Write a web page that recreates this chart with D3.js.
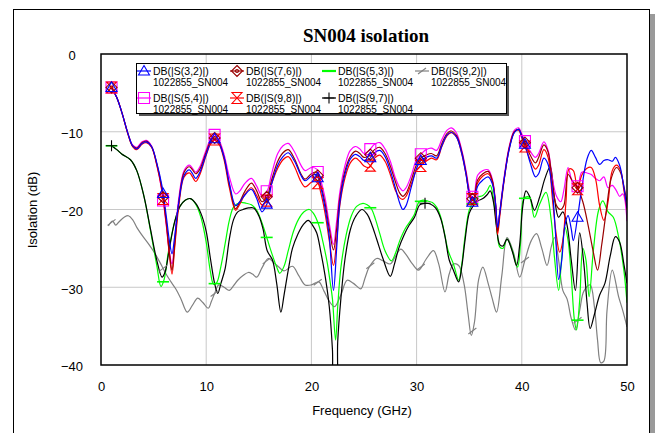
<!DOCTYPE html>
<html>
<head>
<meta charset="utf-8">
<script src="https://cdn.jsdelivr.net/npm/d3@7"></script>
<style>
  body { margin: 0; background: #ffffff; }
  svg { display: block; }
  text { font-family: "Liberation Sans", Arial, sans-serif; }
</style>
</head>
<body>
<svg id="chart" width="659" height="433"></svg>
<script>
// data: [frequency GHz, dB]
var s32 = [[1,-4.3],[1.5,-5.6],[2,-7.6],[2.6,-10.4],[3,-11.8],[3.4,-12.2],[3.9,-11.5],[4.3,-11.3],[4.8,-11.9],[5.3,-14.0],[5.8,-17.0],[6.2,-20.8],[6.5,-24],[6.75,-25.7],[7.0,-23.5],[7.4,-19],[7.9,-15.6],[8.4,-14.9],[8.7,-15.4],[9.0,-16.0],[9.4,-15.2],[10.0,-12.9],[10.5,-11.2],[10.8,-10.9],[11.2,-11.4],[11.7,-13.3],[12.2,-16.6],[12.8,-19.5],[13.2,-19.0],[13.7,-18.1],[14.3,-17.4],[14.8,-18.6],[15.3,-20.3],[15.8,-19.2],[16.2,-16.8],[16.8,-14.3],[17.3,-13.2],[17.8,-12.7],[18.4,-13.8],[19.0,-15.6],[19.4,-16.3],[20.0,-15.7],[20.5,-15.5],[20.9,-17.2],[21.3,-19.8],[21.7,-23.5],[22.1,-30.4],[22.4,-25],[22.7,-19.2],[23.2,-15.4],[23.7,-13.5],[24.2,-12.9],[24.6,-13.2],[25.0,-13.7],[25.5,-13.5],[26.0,-12.7],[26.5,-12.4],[27.0,-13.2],[27.5,-15.0],[28.0,-17.3],[28.4,-19.2],[28.7,-20.0],[29.0,-19.5],[29.5,-17.1],[30.0,-14.7],[30.4,-13.7],[30.9,-13.3],[31.4,-13.1],[31.9,-13.4],[32.4,-11.8],[32.9,-10.4],[33.3,-10.1],[33.8,-10.7],[34.3,-12.8],[34.7,-15.5],[35.1,-18.6],[35.4,-19.3],[35.8,-17.0],[36.3,-16.2],[36.8,-15.8],[37.2,-16.7],[37.5,-19.2],[37.7,-22.3],[37.9,-20.5],[38.3,-16.3],[38.8,-12.3],[39.3,-10.1],[39.7,-9.7],[40.0,-10.6],[40.3,-11.6],[40.8,-14.0],[41.3,-15.8],[41.6,-15.4],[42.1,-13.4],[42.5,-14.2],[42.9,-17.5],[43.2,-23],[43.5,-29],[43.8,-26.5],[44.1,-22],[44.4,-20.8],[44.7,-22.5],[44.9,-24],[45.3,-21],[45.7,-17.2],[46.2,-13.5],[46.6,-12.4],[47.0,-13.3],[47.4,-14.2],[47.8,-13.7],[48.2,-13.6],[48.6,-13.8],[48.9,-13.3],[49.3,-14.3],[49.6,-16.3],[50,-19.8]];

var s76 = [[1,-4.3],[1.5,-5.6],[2,-7.6],[2.6,-10.4],[3,-11.8],[3.4,-12.1],[3.9,-11.4],[4.3,-11.2],[4.8,-11.9],[5.3,-14.1],[5.8,-17.4],[6.2,-21.5],[6.5,-25.5],[6.75,-27.8],[7.0,-24.5],[7.4,-19],[7.9,-15.2],[8.4,-14.5],[8.7,-14.9],[9.0,-15.4],[9.4,-14.8],[10.0,-12.6],[10.5,-11.0],[10.8,-10.8],[11.2,-11.3],[11.7,-13.3],[12.2,-16.8],[12.8,-19.9],[13.2,-19.0],[13.7,-17.6],[14.3,-16.6],[14.8,-17.6],[15.3,-19.0],[15.8,-18.3],[16.2,-16.3],[16.8,-13.8],[17.3,-12.7],[17.8,-12.3],[18.4,-13.5],[19.0,-15.4],[19.4,-16.1],[20.0,-15.4],[20.5,-15.2],[20.9,-16.9],[21.3,-19.2],[21.7,-22.5],[22.1,-25.2],[22.4,-22.5],[22.7,-18.5],[23.2,-15.0],[23.7,-13.2],[24.2,-12.5],[24.6,-12.8],[25.0,-13.3],[25.5,-13.1],[26.0,-12.3],[26.5,-12.0],[27.0,-12.8],[27.5,-14.4],[28.0,-16.5],[28.4,-17.9],[28.7,-18.3],[29.0,-17.9],[29.5,-16.2],[30.0,-14.2],[30.4,-13.4],[30.9,-13.0],[31.4,-12.8],[31.9,-13.1],[32.4,-11.5],[32.9,-10.2],[33.3,-9.9],[33.8,-10.5],[34.3,-12.6],[34.7,-15.3],[35.1,-18.3],[35.4,-18.8],[35.8,-16.2],[36.3,-15.4],[36.8,-15.1],[37.2,-16.3],[37.5,-19.2],[37.7,-22.8],[37.9,-20.5],[38.3,-16.3],[38.8,-12.1],[39.3,-10.0],[39.7,-9.7],[40.0,-10.5],[40.3,-11.4],[40.8,-13.0],[41.3,-14.0],[41.6,-13.3],[42.1,-11.7],[42.5,-12.6],[42.9,-16.5],[43.3,-19.5],[43.7,-20.0],[44.0,-19.5],[44.4,-15.5],[44.8,-16.3],[45.3,-17.2],[45.8,-19.0],[46.3,-22],[46.8,-25.5],[47.2,-27.8],[47.6,-24.5],[48.0,-20.5],[48.5,-16.0],[49.0,-14.6],[49.4,-15.3],[49.7,-17.0],[50,-19]];

var s98 = [[1,-4.3],[1.5,-5.6],[2,-7.6],[2.6,-10.5],[3,-11.9],[3.4,-12.3],[3.9,-11.6],[4.3,-11.4],[4.8,-12.0],[5.3,-14.3],[5.8,-17.6],[6.2,-21.8],[6.5,-25.8],[6.75,-28.3],[7.0,-25],[7.4,-19.5],[7.9,-15.8],[8.4,-15.3],[8.7,-15.8],[9.0,-16.4],[9.4,-15.5],[10.0,-13.0],[10.5,-11.3],[10.8,-11.0],[11.2,-11.5],[11.7,-13.6],[12.2,-17.2],[12.8,-20.1],[13.2,-19.3],[13.7,-18.0],[14.3,-17.2],[14.8,-18.2],[15.3,-19.4],[15.8,-18.8],[16.2,-16.8],[16.8,-14.7],[17.3,-13.6],[17.8,-13.2],[18.4,-14.5],[19.0,-16.4],[19.4,-17.1],[20.0,-16.5],[20.5,-16.2],[20.9,-17.9],[21.3,-20.5],[21.7,-24.0],[22.1,-27.2],[22.4,-24],[22.7,-19.5],[23.2,-15.9],[23.7,-14.0],[24.2,-13.4],[24.6,-13.8],[25.0,-14.4],[25.5,-14.6],[26.0,-13.4],[26.5,-13.0],[27.0,-13.8],[27.5,-15.5],[28.0,-17.6],[28.4,-18.5],[28.7,-18.7],[29.0,-18.3],[29.5,-16.7],[30.0,-14.9],[30.4,-14.4],[30.9,-13.8],[31.4,-13.4],[31.9,-13.6],[32.4,-11.9],[32.9,-10.5],[33.3,-10.1],[33.8,-10.7],[34.3,-12.9],[34.7,-15.5],[35.1,-18.4],[35.4,-18.8],[35.8,-16.6],[36.3,-15.7],[36.8,-15.4],[37.2,-16.4],[37.5,-19.5],[37.7,-23.2],[37.9,-21],[38.3,-16.5],[38.8,-12.2],[39.3,-10.0],[39.7,-9.8],[40.0,-10.8],[40.3,-11.9],[40.8,-13.6],[41.3,-14.8],[41.6,-14.3],[42.1,-12.3],[42.5,-13.3],[42.9,-18.5],[43.3,-23.5],[43.6,-25.5],[43.9,-24],[44.2,-19],[44.5,-14.8],[44.9,-15.0],[45.3,-17.4],[45.7,-15.6],[46.2,-14.7],[46.6,-14.6],[47.0,-16.0],[47.4,-19.5],[47.8,-21.4],[48.2,-19.0],[48.6,-15.0],[49.0,-14.3],[49.4,-15.0],[49.7,-17.5],[50,-20]];

var s54 = [[1,-4.3],[1.5,-5.6],[2,-7.6],[2.6,-10.4],[3,-11.7],[3.4,-12.0],[3.9,-11.3],[4.3,-11.1],[4.8,-11.8],[5.3,-14.2],[5.8,-17.8],[6.2,-22.0],[6.5,-25.5],[6.75,-27.0],[7.0,-24],[7.4,-18.5],[7.9,-15.0],[8.4,-14.3],[8.7,-14.7],[9.0,-15.2],[9.4,-14.5],[10.0,-12.3],[10.5,-10.7],[10.8,-10.4],[11.2,-11.0],[11.7,-12.9],[12.2,-15.8],[12.8,-18.0],[13.2,-17.6],[13.7,-16.6],[14.3,-16.0],[14.8,-17.0],[15.3,-18.2],[15.8,-17.6],[16.2,-15.5],[16.8,-12.8],[17.3,-11.8],[17.8,-11.5],[18.4,-12.6],[19.0,-14.3],[19.4,-15.0],[20.0,-14.6],[20.5,-14.8],[20.9,-16.3],[21.3,-18.5],[21.7,-21.8],[22.1,-24.5],[22.4,-21.5],[22.7,-17.8],[23.2,-14.3],[23.7,-12.4],[24.2,-11.9],[24.6,-12.2],[25.0,-12.8],[25.5,-12.4],[26.0,-11.6],[26.5,-11.4],[27.0,-12.2],[27.5,-13.8],[28.0,-16.0],[28.4,-17.2],[28.7,-17.6],[29.0,-17.2],[29.5,-15.6],[30.0,-13.5],[30.4,-12.9],[30.9,-12.3],[31.4,-12.1],[31.9,-12.4],[32.4,-11.0],[32.9,-9.8],[33.3,-9.5],[33.8,-10.2],[34.3,-12.4],[34.7,-15.0],[35.1,-17.9],[35.4,-18.6],[35.8,-15.6],[36.3,-15.0],[36.8,-14.9],[37.2,-16.1],[37.5,-19.0],[37.7,-22.5],[37.9,-20.3],[38.3,-16.0],[38.8,-11.9],[39.3,-9.8],[39.7,-9.5],[40.0,-10.3],[40.3,-11.2],[40.8,-12.5],[41.3,-13.3],[41.6,-12.8],[42.1,-11.3],[42.5,-12.4],[42.9,-16.0],[43.3,-18.3],[43.7,-19.0],[44.0,-17.5],[44.4,-14.6],[44.8,-16.4],[45.3,-17.0],[45.7,-15.2],[46.2,-15.3],[46.6,-15.5],[47.0,-16.0],[47.4,-16.3],[47.8,-15.8],[48.2,-17.2],[48.6,-16.9],[49.0,-17.6],[49.3,-18.3],[49.6,-18.0],[50,-21.5]];

var s53 = [[1,-11.8],[1.5,-12.3],[2,-12.9],[2.8,-13.6],[3.4,-15.0],[4.1,-18.4],[4.7,-22.7],[5.3,-27.2],[5.7,-29.9],[6.0,-29.0],[6.4,-25.5],[7.0,-21.6],[7.5,-19.6],[8.0,-18.8],[8.5,-18.6],[9.0,-19.3],[9.5,-21.0],[10.0,-24.2],[10.4,-28.0],[10.7,-29.6],[11.0,-29.4],[11.4,-27.3],[11.8,-24.4],[12.2,-21.4],[12.6,-19.7],[13.2,-19.1],[13.8,-19.2],[14.3,-19.4],[14.8,-20.1],[15.3,-21.7],[15.8,-23.8],[16.3,-25.9],[16.7,-27.4],[17.0,-28.2],[17.4,-27.3],[17.8,-25.3],[18.3,-22.8],[18.8,-21.2],[19.3,-20.3],[19.8,-20.0],[20.2,-20.5],[20.7,-22.0],[21.1,-24.2],[21.5,-26.8],[21.8,-29.5],[22.0,-31.5],[22.3,-36.8],[22.5,-32.5],[22.8,-27.5],[23.3,-23.3],[23.8,-20.8],[24.3,-19.6],[24.9,-19.2],[25.3,-19.4],[25.7,-19.9],[26.1,-21.3],[26.5,-23.1],[27.0,-25.3],[27.6,-26.6],[28.0,-25.6],[28.4,-24.0],[28.9,-22.5],[29.4,-21.5],[29.8,-20.6],[30.2,-19.1],[30.6,-18.8],[31.0,-18.9],[31.5,-19.1],[31.9,-19.7],[32.3,-21.0],[32.6,-22.7],[33.0,-25.3],[33.5,-27.0],[34.0,-29.1],[34.3,-27.0],[34.6,-23.5],[35.0,-20.1],[35.4,-19.0],[35.8,-18.4],[36.3,-18.2],[36.7,-17.6],[37.0,-16.9],[37.3,-18.5],[37.6,-22.0],[37.9,-24.8],[38.2,-25.0],[38.6,-23.8],[39.1,-25.3],[39.6,-27.4],[39.9,-24.0],[40.2,-18.6],[40.7,-18.4],[41.2,-21.0],[41.7,-19.3],[42.3,-17.8],[42.8,-21.4],[43.1,-26.1],[43.5,-30.4],[43.8,-26.1],[44.1,-22.3],[44.4,-24.0],[44.7,-28.5],[45.0,-34.2],[45.2,-35.5],[45.5,-31.7],[45.8,-25.0],[46.1,-26.5],[46.4,-31.2],[46.8,-25.3],[47.3,-20.1],[47.7,-18.9],[48.2,-20.3],[48.7,-21.0],[49.2,-23.5],[49.7,-27.8],[50,-32]];

var s92 = [[0.7,-22.1],[1.1,-21.5],[1.4,-22.0],[1.7,-21.6],[2.2,-21.0],[2.6,-20.8],[3.0,-21.3],[3.4,-22.3],[4.0,-23.5],[4.5,-24.4],[5.1,-25.6],[5.6,-26.8],[6.1,-28.1],[6.6,-29.2],[7.1,-30.2],[7.6,-31.5],[8.2,-33.2],[8.7,-32.3],[9.2,-31.4],[9.7,-32.0],[10.2,-32.7],[10.5,-31.8],[10.8,-30.8],[11.2,-29.7],[11.7,-30.0],[12.2,-30.4],[12.6,-29.8],[13.0,-29.1],[13.5,-28.5],[14.0,-28.1],[14.4,-28.3],[14.8,-28.7],[15.3,-27.5],[15.9,-26.3],[16.4,-26.8],[16.9,-27.4],[17.4,-27.9],[18.2,-27.3],[18.8,-28.5],[19.4,-29.7],[20.0,-29.7],[20.7,-29.3],[21.2,-30.5],[21.7,-31.8],[22.2,-32.5],[22.8,-31.0],[23.4,-29.1],[24.0,-29.5],[24.7,-30.2],[25.1,-28.8],[25.5,-27.4],[26.2,-26.3],[26.8,-26.6],[27.5,-27.0],[28.0,-26.0],[28.5,-25.1],[29.0,-25.8],[29.6,-27.0],[30.2,-27.8],[30.9,-26.4],[31.6,-25.3],[32.1,-27.0],[32.7,-30.6],[33.1,-28.3],[33.5,-27.0],[34.0,-27.2],[34.5,-29.5],[34.9,-33.5],[35.2,-36.2],[35.5,-34.5],[35.9,-29.0],[36.3,-27.4],[36.8,-29.5],[37.2,-31.5],[37.6,-33.2],[38.1,-28.5],[38.6,-23.6],[39.2,-25.5],[39.8,-28.7],[40.3,-26.5],[40.9,-24.0],[41.4,-23.1],[41.9,-25.0],[42.4,-27.2],[42.8,-24.8],[43.1,-23.6],[43.5,-26.5],[43.9,-30.4],[44.3,-31.5],[44.7,-34.0],[45.1,-35.5],[45.5,-33.0],[45.9,-30.5],[46.5,-29.7],[46.9,-32.5],[47.2,-36.8],[47.5,-39.7],[47.8,-39.5],[48.1,-33.0],[48.6,-27.8],[49.2,-31.2],[49.6,-33.0],[50,-35.1]];

var s97 = [[1,-11.8],[1.5,-12.3],[2,-12.9],[2.8,-13.6],[3.4,-15.0],[4.1,-18.4],[4.7,-22.5],[5.3,-26.5],[5.8,-28.7],[6.1,-28.0],[6.5,-25.0],[7.0,-21.6],[7.5,-19.6],[8.0,-18.8],[8.5,-18.6],[9.0,-19.2],[9.5,-20.5],[10.0,-22.8],[10.4,-26.3],[10.8,-29.5],[11.1,-30.8],[11.4,-29.5],[11.8,-27.6],[12.2,-23.8],[12.6,-21.3],[13.0,-20.3],[13.5,-20.0],[14.0,-19.8],[14.5,-19.8],[15.0,-20.8],[15.4,-22.5],[15.8,-25.3],[16.3,-26.5],[16.7,-29.5],[17.1,-33.2],[17.4,-31.0],[17.8,-27.8],[18.2,-25.0],[18.7,-23.2],[19.2,-22.0],[19.7,-21.4],[20.1,-22.0],[20.5,-23.0],[20.9,-25.5],[21.3,-28.5],[21.7,-32.5],[22.0,-38],[22.15,-43],[22.35,-43],[22.5,-37],[22.8,-31.5],[23.2,-26.3],[23.7,-22.6],[24.2,-20.9],[24.8,-20.0],[25.3,-20.6],[25.7,-21.8],[26.2,-23.8],[26.8,-26.3],[27.5,-28.6],[27.9,-27.0],[28.3,-25.0],[28.8,-23.3],[29.3,-22.0],[29.8,-21.0],[30.3,-19.4],[30.8,-19.2],[31.3,-19.3],[31.8,-19.8],[32.3,-21.2],[32.7,-23.5],[33.1,-26.5],[33.5,-27.8],[34.0,-29.3],[34.3,-27.3],[34.6,-24.0],[35.0,-20.5],[35.4,-19.5],[35.8,-18.9],[36.3,-18.6],[36.7,-18.1],[37.0,-17.6],[37.3,-19.0],[37.6,-22.3],[37.9,-24.5],[38.2,-24.7],[38.6,-23.8],[39.1,-25.4],[39.5,-27.2],[39.8,-24.5],[40.1,-19.5],[40.4,-17.6],[40.8,-18.5],[41.2,-20.1],[41.7,-18.4],[42.2,-16.0],[42.7,-14.5],[43.1,-18.5],[43.5,-21.0],[43.9,-20.3],[44.3,-22.0],[44.7,-26.5],[45.1,-30.4],[45.5,-23.0],[45.9,-27.0],[46.2,-32.0],[46.5,-35.3],[46.9,-33.5],[47.4,-31.0],[47.9,-29.5],[48.4,-26.0],[48.9,-23.5],[49.3,-24.2],[49.7,-27.0],[50,-29.5]];

// frequencies where the trace markers sit
var markerFreqs = [1, 5.9, 10.8, 15.75, 20.6, 25.6, 30.4, 35.3, 40.3, 45.3];
var blackMarkerFreqs = [1, 30.8];

var xTicks = [0, 10, 20, 30, 40, 50];
var yTicks = [0, -10, -20, -30, -40];

// drawing order: first drawn ends up underneath
var series = [
  { name: "DB(|S(9,2)|)", data: s92, color: "#808080", marker: "slash", marks: markerFreqs, col: 3, row: 0 },
  { name: "DB(|S(5,3)|)", data: s53, color: "#00ff00", marker: "dash", marks: markerFreqs, col: 2, row: 0 },
  { name: "DB(|S(9,7)|)", data: s97, color: "#000000", marker: "plus", marks: blackMarkerFreqs, col: 2, row: 1 },
  { name: "DB(|S(5,4)|)", data: s54, color: "#ff00ff", marker: "square", marks: markerFreqs, col: 0, row: 1 },
  { name: "DB(|S(9,8)|)", data: s98, color: "#ff0000", marker: "hourglass", marks: markerFreqs, col: 1, row: 1 },
  { name: "DB(|S(7,6)|)", data: s76, color: "#990000", marker: "diamond", marks: markerFreqs, col: 1, row: 0 },
  { name: "DB(|S(3,2)|)", data: s32, color: "#0000ff", marker: "triangle", marks: markerFreqs, col: 0, row: 0 }
];

var svg = d3.select("#chart");
var plotLeft = 101, plotRight = 627, plotTop = 54, plotBottom = 365;

var x = d3.scaleLinear().domain([0, 50]).range([plotLeft, plotRight]);
var y = d3.scaleLinear().domain([-40, 0]).range([plotBottom, plotTop]);

// outer frame with a shadow on the right
svg.append("rect").attr("x", 650).attr("y", 14).attr("width", 5).attr("height", 430).attr("fill", "#9a9a9a");
svg.append("rect").attr("x", 13.5).attr("y", 9.5).attr("width", 636).attr("height", 440)
  .attr("fill", "#ffffff").attr("stroke", "#000").attr("stroke-width", 1);

// title
svg.append("text")
  .attr("x", 366).attr("y", 42)
  .attr("text-anchor", "middle")
  .style("font-family", "'Liberation Serif', 'Times New Roman', serif")
  .style("font-weight", "bold")
  .style("font-size", "19px")
  .text("SN004 isolation");

// grid
var grid = svg.append("g");
grid.selectAll("line.vx").data(xTicks.slice(1, -1)).enter().append("line")
  .attr("x1", function (d) { return x(d); }).attr("x2", function (d) { return x(d); })
  .attr("y1", plotTop).attr("y2", plotBottom)
  .attr("stroke", "#c8c8c8").attr("stroke-width", 1);
grid.selectAll("line.hy").data(yTicks.slice(1, -1)).enter().append("line")
  .attr("x1", plotLeft).attr("x2", plotRight)
  .attr("y1", function (d) { return y(d); }).attr("y2", function (d) { return y(d); })
  .attr("stroke", "#c8c8c8").attr("stroke-width", 1);

// axes (labels only, the border is drawn as a rect)
var xAxis = svg.append("g")
  .attr("transform", "translate(0," + plotBottom + ")")
  .call(d3.axisBottom(x).tickValues(xTicks).tickSize(0).tickPadding(17));
var yAxis = svg.append("g")
  .attr("transform", "translate(" + plotLeft + ",0)")
  .call(d3.axisLeft(y).tickValues(yTicks).tickSize(0).tickPadding(23));
[xAxis, yAxis].forEach(function (a) {
  a.select(".domain").remove();
  a.selectAll("text").style("font-size", "13px")
    .style("font-family", "'Liberation Sans', Arial, sans-serif").attr("fill", "#000");
});
yAxis.selectAll("text").attr("text-anchor", "middle").attr("x", -29).attr("dy", "0.45em");

svg.append("text")
  .attr("x", 362).attr("y", 415)
  .attr("text-anchor", "middle")
  .style("font-size", "13px")
  .text("Frequency (GHz)");
svg.append("text")
  .attr("transform", "translate(37,210) rotate(-90)")
  .attr("text-anchor", "middle")
  .style("font-size", "13px")
  .text("Isolation (dB)");

// clip for traces
svg.append("clipPath").attr("id", "plotClip")
  .append("rect").attr("x", plotLeft).attr("y", plotTop)
  .attr("width", plotRight - plotLeft).attr("height", plotBottom - plotTop);

var line = d3.line()
  .x(function (d) { return x(d[0]); })
  .y(function (d) { return y(d[1]); })
  .curve(d3.curveCatmullRom.alpha(0.5));

// marker shapes, centred on 0,0
function markerPath(type) {
  switch (type) {
    case "triangle": return "M0,-5.5 L5.5,4 L-5.5,4 Z";
    case "square": return "M-5.5,-5.5 H5.5 V5.5 H-5.5 Z";
    case "diamond": return "M0,-5.5 L5.5,0 L0,5.5 L-5.5,0 Z M-1.5,0 A1.5,1.5 0 1,0 1.5,0 A1.5,1.5 0 1,0 -1.5,0";
    case "hourglass": return "M-5,-5.5 H5 L-5,5.5 H5 Z";
    case "plus": return "M-5.5,0 H5.5 M0,-5.5 V5.5";
    case "dash": return "M-6,0 H6";
    case "slash": return "M-4,3 L4,-3";
  }
  return "";
}

function valueAt(data, f) {
  for (var i = 1; i < data.length; i++) {
    if (data[i][0] >= f) {
      var a = data[i - 1], b = data[i];
      var t = (f - a[0]) / (b[0] - a[0]);
      return a[1] + t * (b[1] - a[1]);
    }
  }
  return data[data.length - 1][1];
}

var traces = svg.append("g").attr("clip-path", "url(#plotClip)");
series.forEach(function (s) {
  traces.append("path")
    .datum(s.data)
    .attr("d", line)
    .attr("fill", "none")
    .attr("stroke", s.color)
    .attr("stroke-width", 1.2);
});
series.forEach(function (s) {
  traces.selectAll(null)
    .data(s.marks.filter(function (f) { return f >= s.data[0][0]; }))
    .enter().append("path")
    .attr("transform", function (f) { return "translate(" + x(f) + "," + y(valueAt(s.data, f)) + ")"; })
    .attr("d", markerPath(s.marker))
    .attr("fill", "none")
    .attr("stroke", s.color)
    .attr("stroke-width", s.marker == "dash" ? 1.6 : 1.1);
});

// plot border
svg.append("rect")
  .attr("x", plotLeft).attr("y", plotTop)
  .attr("width", plotRight - plotLeft).attr("height", plotBottom - plotTop)
  .attr("fill", "none").attr("stroke", "#000").attr("stroke-width", 1.5);

// legend
var lg = svg.append("g");
lg.append("rect").attr("x", 139).attr("y", 66).attr("width", 370).attr("height", 50).attr("fill", "#555");
lg.append("rect").attr("x", 136.5).attr("y", 63.5).attr("width", 370).attr("height", 50)
  .attr("fill", "#fff").attr("stroke", "#000").attr("stroke-width", 1);
var colX = [144, 237, 329, 422];
var rowY = [71, 98];
var legendOrder = series.slice().sort(function (a, b) { return a.row - b.row || a.col - b.col; });
legendOrder.forEach(function (s) {
  var cx = colX[s.col], cy = rowY[s.row];
  lg.append("line").attr("x1", cx - 7).attr("x2", cx + 7).attr("y1", cy).attr("y2", cy)
    .attr("stroke", s.color).attr("stroke-width", s.marker == "dash" ? 2.2 : 1.2);
  lg.append("path").attr("transform", "translate(" + cx + "," + cy + ")")
    .attr("d", markerPath(s.marker)).attr("fill", "none")
    .attr("stroke", s.color).attr("stroke-width", 1.1);
  lg.append("text").attr("x", cx + 9).attr("y", cy + 4).style("font-size", "10.5px").text(s.name);
  lg.append("text").attr("x", cx + 9).attr("y", cy + 15).style("font-size", "10px").text("1022855_SN004");
});
</script>
</body>
</html>
